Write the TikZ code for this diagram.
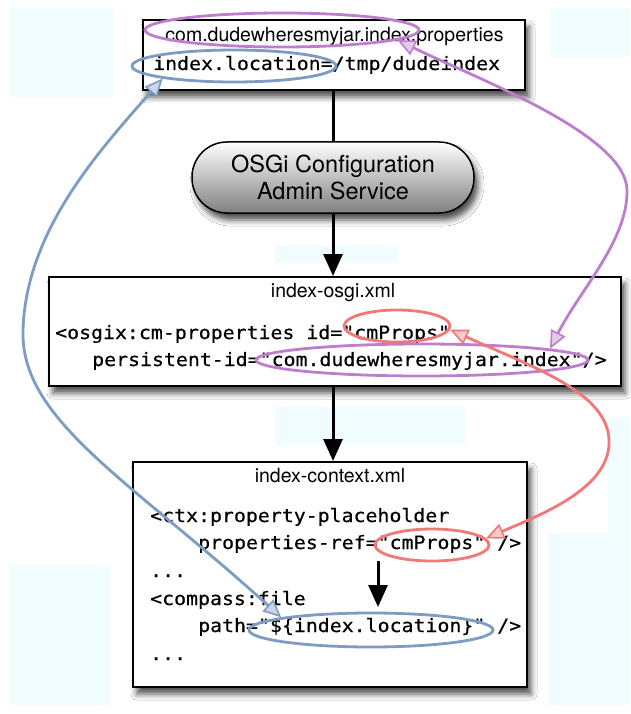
\documentclass[tikz,border=0pt]{standalone}
\usepackage{fontspec}
\setmainfont{TeX Gyre Heros}
\newfontfamily\monof[FakeStretch=1.08,FakeBold=0.5]{DejaVu Sans Mono}
\usetikzlibrary{arrows.meta,shapes.geometric,shadows.blur}
\definecolor{pur}{RGB}{190,125,205}
\definecolor{blu}{RGB}{125,155,195}
\definecolor{redc}{RGB}{242,120,120}
\definecolor{cyanbg}{RGB}{240,252,253}
\tikzset{
  box/.style={draw=black, line width=2pt, fill=white, inner sep=0pt,
    blur shadow={shadow xshift=4pt, shadow yshift=-7pt, shadow blur radius=6pt, shadow opacity=70}},
  sanst/.style={font=\fontsize{19.5}{22}\selectfont, inner sep=0pt, anchor=base},
  monot/.style={font=\monof\fontsize{18.4}{22}\selectfont, inner sep=0pt, anchor=base west},
  ring/.style={ellipse, draw=#1, line width=2.8pt, inner sep=0pt},
  plain/.style={line width=3pt},
  flow/.style={line width=3pt, -{Triangle[length=22pt,width=19pt]}},
  link/.style={draw=#1, line width=2.8pt,
    {Triangle[length=18pt,width=16pt,fill=#1!40,line width=1.6pt]}-{Triangle[length=18pt,width=16pt,fill=#1!40,line width=1.6pt]}},
}
\begin{document}
\begin{tikzpicture}[x=1pt,y=-1pt]
\useasboundingbox (0,0) rectangle (630,714);
\fill[white] (0,0) rectangle (630,714);
% faint background patches
\fill[cyanbg] (10,8) rectangle (113,97);
\fill[cyanbg] (550,8) rectangle (630,57);
\fill[cyanbg] (275,245) rectangle (398,263);
\fill[cyanbg] (275,407) rectangle (465,445);
\fill[cyanbg] (608,417) rectangle (630,533);
\fill[cyanbg] (548,533) rectangle (630,705);
\fill[cyanbg] (10,565) rectangle (110,705);

% boxes
\node[box, minimum width=382pt, minimum height=70pt] (top) at (334,55) {};
\node[box, draw, line width=1.5pt, rounded corners=35pt, minimum width=282pt, minimum height=71pt,
      top color=white, bottom color=black!50, align=center,
      font=\fontsize{23.5}{27}\selectfont] (osgi) at (333,177.5) {OSGi Configuration\\Admin Service};
\node[box, minimum width=572pt, minimum height=109pt] (mid) at (335,331.5) {};
\node[box, minimum width=394pt, minimum height=225pt] (bot) at (330,574.5) {};

% texts
\node[sanst] (t1) at (334.5,42) {com.dudewheresmyjar.index.properties};
\node[monot] (t2) at (153,70) {index.location=/tmp/dudeindex};
\node[sanst] (m0) at (333,297) {index-osgi.xml};
\node[monot] (m1) at (55,339) {<osgix:cm-properties id="cmProps"};
\node[monot] (m2) at (92,366) {persistent-id="com.dudewheresmyjar.index"/>};
\node[sanst] (b0) at (330,482) {index-context.xml};
\node[monot] (b1) at (150,522) {<ctx:property-placeholder};
\node[monot] (b2) at (198,549) {properties-ref="cmProps" />};
\node[monot] (b3) at (150,577) {...};
\node[monot] (b4) at (150,605) {<compass:file};
\node[monot] (b5) at (198,632) {path="\$\{index.location\}" />};
\node[monot] (b6) at (150,660) {...};

% black connectors
\draw[plain] (top.south -| osgi.north) -- (osgi.north);
\draw[flow] (osgi.south) -- (mid.north -| osgi.south);
\draw[flow] (mid.south -| osgi.south) -- (bot.north -| osgi.south);
\coordinate (ia) at (378,561);
\coordinate (ib) at (378,607);
\draw[flow] (ia) -- (ib);

% highlight rings
\node[ring=pur, minimum width=274pt, minimum height=34pt] (ptop) at (282,30) {};
\node[ring=blu, minimum width=204pt, minimum height=32pt] (btop) at (234,66) {};
\node[ring=redc, minimum width=106pt, minimum height=32pt] (rmid) at (397,326) {};
\node[ring=pur, minimum width=332pt, minimum height=32pt] (pmid) at (422,360) {};
\node[ring=redc, minimum width=114pt, minimum height=32pt] (rbot) at (432,545) {};
\node[ring=blu, minimum width=244pt, minimum height=34pt] (bbot) at (371,630) {};

% coloured links
\draw[link=pur] (pmid.5) .. controls (580,290) and (628,240) .. (627,190)
                .. controls (626,135) and (480,80) .. (ptop.-5);
\draw[link=redc] (rmid.-4) .. controls (540,370) and (612,395) .. (609,445)
                 .. controls (606,490) and (540,515) .. (rbot.7);
\draw[link=blu] (bbot.172) .. controls (130,480) and (20,420) .. (23,330)
                .. controls (26,230) and (100,150) .. (btop.-170);
\end{tikzpicture}
\end{document}
